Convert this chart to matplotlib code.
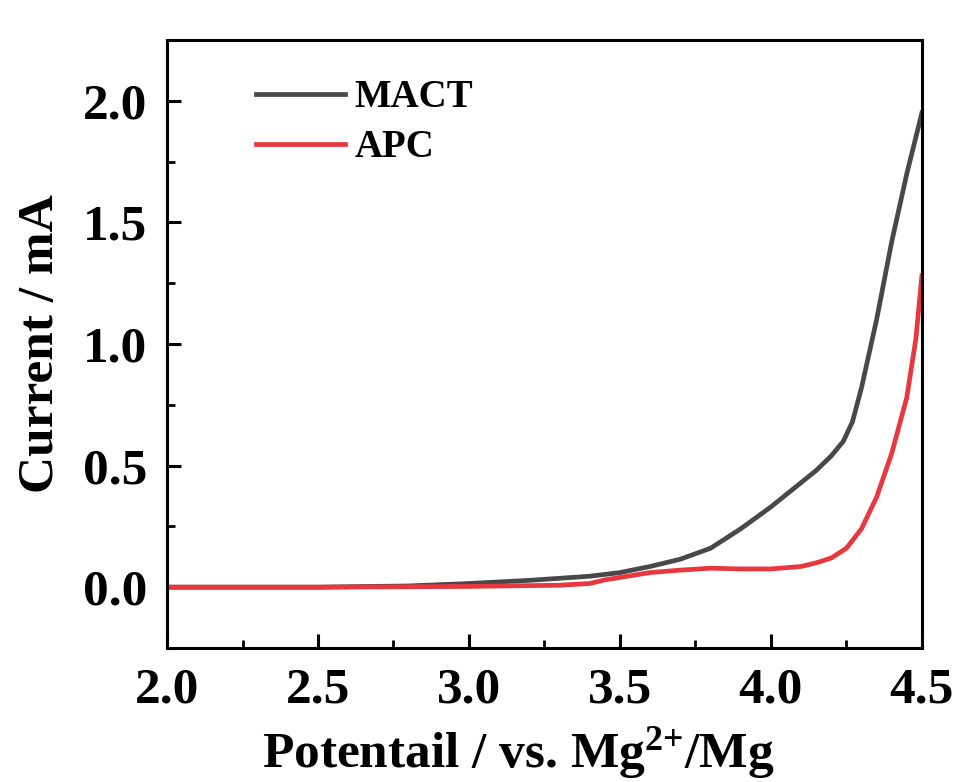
import matplotlib
matplotlib.use("Agg")
import matplotlib.pyplot as plt
from matplotlib.ticker import MultipleLocator

plt.rcParams['font.family'] = 'Liberation Serif'
plt.rcParams['font.weight'] = 'bold'
plt.rcParams['mathtext.fontset'] = 'custom'
plt.rcParams['mathtext.rm'] = 'Liberation Serif:bold'
plt.rcParams['mathtext.bf'] = 'Liberation Serif:bold'
plt.rcParams['mathtext.default'] = 'bf'

# potential (V) and current (mA)
x_mact = [2.0, 2.5, 2.8, 3.0, 3.2, 3.4, 3.5, 3.6, 3.7, 3.8, 3.9, 4.0, 4.1, 4.15,
          4.2, 4.24, 4.27, 4.3, 4.35, 4.4, 4.45, 4.5]
i_mact = [0.0, 0.0, 0.005, 0.015, 0.028, 0.045, 0.06, 0.085, 0.115, 0.16, 0.24,
          0.33, 0.43, 0.48, 0.54, 0.6, 0.68, 0.82, 1.1, 1.42, 1.7, 1.95]

x_apc = [2.0, 2.5, 3.0, 3.3, 3.4, 3.45, 3.5, 3.6, 3.7, 3.8, 3.9, 4.0, 4.1, 4.15,
         4.2, 4.25, 4.3, 4.35, 4.4, 4.45, 4.48, 4.5]
i_apc = [0.0, 0.0, 0.003, 0.008, 0.015, 0.03, 0.04, 0.06, 0.07, 0.078, 0.075,
         0.075, 0.085, 0.1, 0.12, 0.16, 0.24, 0.37, 0.55, 0.78, 1.02, 1.28]

fig = plt.figure(figsize=(9.74, 7.82), dpi=100)
ax = fig.add_axes([0.1715, 0.1714, 0.775, 0.7775])

ax.plot(x_mact, i_mact, color="#484848", lw=3.4, label="MACT", solid_joinstyle="round")
ax.plot(x_apc, i_apc, color="#e8383d", lw=3.4, label="APC", solid_joinstyle="round")

ax.set_xlim(2.0, 4.5)
ax.set_ylim(-0.25, 2.25)
ax.xaxis.set_major_locator(MultipleLocator(0.5))
ax.xaxis.set_minor_locator(MultipleLocator(0.25))
ax.yaxis.set_major_locator(MultipleLocator(0.5))
ax.yaxis.set_minor_locator(MultipleLocator(0.25))
ax.tick_params(which="major", direction="in", length=10, width=2.2, labelsize=37, pad=14)
ax.tick_params(which="minor", direction="in", length=6, width=2)
for s in ax.spines.values():
    s.set_linewidth(2.2)
for lab in ax.get_xticklabels() + ax.get_yticklabels():
    lab.set_fontweight("bold")

ax.set_xlabel("Potentail / vs. Mg$^{2{+}}$/Mg", fontsize=37, fontweight="bold", labelpad=8)
ax.xaxis.label.set_x(0.465)
ax.set_ylabel("Current / mA", fontsize=37, fontweight="bold", labelpad=14)

ax.legend(loc="upper left", bbox_to_anchor=(0.071, 0.993), frameon=False,
          prop={"size": 28, "weight": "bold"}, handlelength=2.3, handletextpad=0.25,
          labelspacing=0.34)

fig.savefig("out.png", dpi=100)
